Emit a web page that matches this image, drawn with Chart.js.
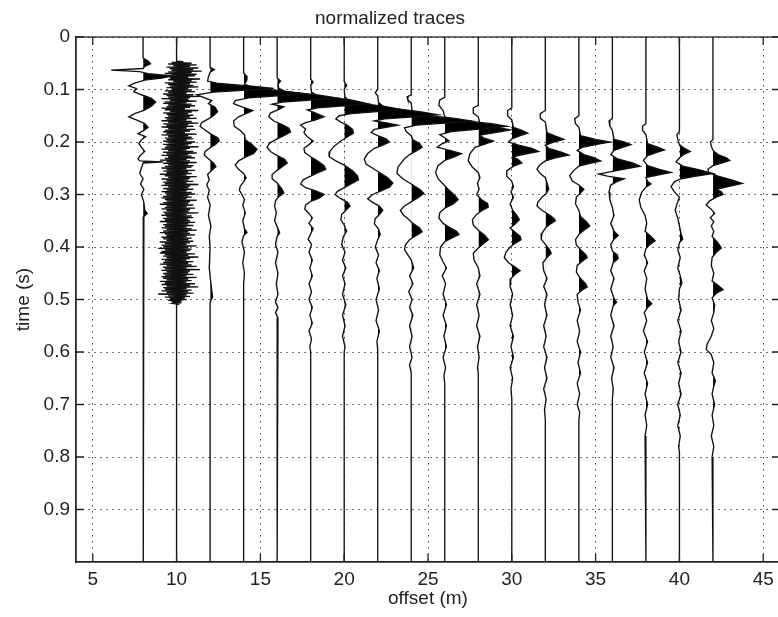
<!DOCTYPE html>
<html>
<head>
<meta charset="utf-8">
<script src="https://cdn.jsdelivr.net/npm/chart.js@4.4.0/dist/chart.umd.min.js"></script>
<style>
  html, body { margin: 0; padding: 0; background: #fff; overflow: hidden; }
</style>
</head>
<body>
<canvas id="traces" width="790" height="617"></canvas>
<script>
// trace positions (m) and axis ticks
const offsets = [8, 10, 12, 14, 16, 18, 20, 22, 24, 26, 28, 30, 32, 34, 36, 38, 40, 42];
const xTicks = [5, 10, 15, 20, 25, 30, 35, 40, 45];
const yTicks = [0, 0.1, 0.2, 0.3, 0.4, 0.5, 0.6, 0.7, 0.8, 0.9];
const yTickLabels = ['0', '0.1', '0.2', '0.3', '0.4', '0.5', '0.6', '0.7', '0.8', '0.9'];

// each trace: [time (s), amplitude (m of offset)]
const tr08 = [[0,0],[0.040,0],[0.046,0.3],[0.051,0.45],[0.056,0.1],[0.060,0],[0.063,-1.9],[0.066,-0.2],[0.070,0.3],[0.074,1.7],[0.078,1.2],[0.082,0.1],[0.088,-0.5],[0.093,-0.85],[0.098,-0.4],[0.104,-0.55],[0.110,-0.1],[0.117,0.5],[0.124,0.75],[0.132,0.5],[0.140,0.05],[0.146,-0.5],[0.152,-0.85],[0.158,-0.4],[0.165,0.1],[0.172,0.3],[0.178,0.05],[0.184,-0.3],[0.19,0.15],[0.196,-0.1],[0.203,-0.25],[0.21,-0.1],[0.218,0.1],[0.225,-0.15],[0.232,-0.3],[0.236,-0.2],[0.238,1.2],[0.240,0],[0.25,-0.1],[0.26,-0.2],[0.27,0],[0.28,-0.15],[0.29,0.05],[0.30,-0.1],[0.315,0.05],[0.33,0.1],[0.336,0.25],[0.342,0.05],[0.36,0],[0.38,0.05],[0.40,0],[1,0]];

// trace 10 (noisy near-source trace) is sampled every 1.5 ms from 0.047 s
const tr10Start = 0.047;
const tr10Step = 0.0015;
const tr10Amp = [
  0.4,-0.3,0.9,-0.5,1.2,-0.2,0.8,-0.6,1.3,-0.4,1.0,-0.3,1.5,-0.5,0.9,-0.7,1.2,-0.3,1.1,-0.6,0.7,-0.4,1.4,-0.5,0.9,-0.2,1.2,-0.7,0.8,-0.5,1.0,-0.4,1.3,-0.6,0.7,-0.3,
  0.9,-0.7,1.1,-0.5,0.6,-0.8,1.0,-0.6,1.4,-0.5,0.8,-0.9,0.7,-0.4,1.2,-0.7,0.6,-0.8,0.9,-0.5,1.1,-0.6,0.8,-0.9,0.5,-0.7,1.3,-0.4,0.9,-0.8,0.7,-0.6,1.0,-0.5,
  0.8,-0.7,1.2,-0.6,0.6,-0.9,0.9,-0.5,1.3,-0.8,0.7,-0.6,1.0,-0.9,0.6,-0.5,1.1,-0.7,0.8,-0.8,0.5,-0.6,1.2,-0.9,0.7,-0.5,0.9,-0.7,1.0,-0.6,0.6,-0.8,1.1,-0.5,
  0.9,-0.8,0.7,-0.6,1.3,-0.7,0.8,-0.9,0.6,-0.5,1.0,-0.8,1.2,-0.6,0.7,-0.9,0.9,-0.5,1.1,-0.7,0.6,-1.0,0.8,-0.6,1.2,-0.8,0.7,-0.5,1.0,-0.7,0.9,-0.9,0.6,-0.6,
  1.1,-0.8,0.7,-0.6,0.9,-1.0,0.6,-0.7,1.2,-0.5,0.8,-0.9,0.7,-0.6,1.0,-0.8,0.6,-0.7,1.3,-0.9,0.8,-0.5,0.7,-0.8,1.0,-0.6,0.6,-0.9,0.9,-0.7,1.1,-0.6,0.7,-0.8,
  0.9,-0.9,0.6,-0.7,1.2,-0.6,0.8,-0.8,0.7,-1.0,1.0,-0.6,0.6,-0.7,1.1,-0.9,0.8,-0.6,0.7,-0.8,1.3,-0.7,0.6,-0.9,0.9,-0.6,1.0,-0.8,0.7,-0.7,0.8,-1.0,1.1,-0.6,
  0.7,-0.8,1.0,-0.7,0.6,-0.9,0.9,-0.6,1.2,-0.8,0.7,-1.0,0.8,-0.7,1.1,-0.6,0.6,-0.9,0.9,-0.8,0.7,-0.6,1.0,-1.0,0.8,-0.7,0.6,-0.9,1.2,-0.8,0.7,-1.1,0.9,-0.7,
  0.8,-0.9,0.6,-1.0,1.1,-0.7,0.7,-0.8,1.3,-0.6,0.8,-0.9,0.6,-0.7,1.0,-0.8,0.7,-1.0,0.9,-0.6,1.2,-0.8,0.6,-0.7,1.4,-0.9,0.8,-0.6,0.7,-0.8,1.0,-0.7,0.6,-0.9,
  1.2,-0.8,0.7,-0.6,0.9,-1.0,0.6,-0.7,1.1,-0.9,0.8,-0.6,1.3,-0.8,0.6,-0.7,0.9,-0.9,0.7,-0.6,1.0,-1.1,0.6,-0.5,0.8,-0.7,0.5,-0.4,0.6,-0.5,0.3,-0.3,0.3,-0.2,0.1,0
];

const tr12 = [[0,0],[0.058,0],[0.062,0.25],[0.067,0],[0.076,-0.1],[0.084,-0.15],[0.088,0.4],[0.094,2.6],[0.098,3.8],[0.101,2.2],[0.105,0.2],[0.110,-0.8],[0.115,-0.4],[0.121,0.1],[0.127,-0.1],[0.134,0.3],[0.142,0.45],[0.150,0.2],[0.156,-0.1],[0.163,-0.5],[0.170,-0.6],[0.177,-0.3],[0.184,0],[0.192,0.45],[0.198,0.55],[0.205,0.3],[0.211,0],[0.218,-0.3],[0.225,-0.35],[0.232,-0.1],[0.240,0.2],[0.247,0.35],[0.254,0.1],[0.262,-0.15],[0.272,-0.05],[0.282,-0.2],[0.292,-0.05],[0.305,-0.15],[0.32,0],[0.34,-0.1],[0.36,0.05],[0.38,-0.05],[0.40,0],[0.44,-0.05],[0.47,0.05],[0.495,0.15],[0.505,0],[1,0]];
const tr14 = [[0,0],[0.068,0],[0.074,0.15],[0.082,0.2],[0.09,0.05],[0.097,0.6],[0.103,2.4],[0.108,3.6],[0.112,2.0],[0.116,0.3],[0.121,-0.5],[0.127,-0.6],[0.133,-0.1],[0.140,0.55],[0.145,0.2],[0.152,-0.3],[0.160,-0.6],[0.170,-0.55],[0.178,-0.2],[0.186,0.05],[0.196,0.1],[0.205,0.5],[0.214,0.8],[0.222,0.6],[0.229,0.1],[0.236,-0.3],[0.244,-0.5],[0.252,-0.3],[0.26,0],[0.268,0.15],[0.276,0],[0.284,-0.2],[0.292,-0.25],[0.30,-0.1],[0.31,0.05],[0.32,-0.05],[0.335,0.1],[0.35,-0.05],[0.365,0.05],[0.372,0.2],[0.378,0],[0.39,-0.1],[0.41,0.05],[0.43,-0.05],[0.45,0.05],[0.47,0],[1,0]];
const tr16 = [[0,0],[0.078,0],[0.084,0.2],[0.09,0.05],[0.098,0.1],[0.104,0.5],[0.111,2.5],[0.116,3.5],[0.12,2.0],[0.124,0.3],[0.128,-0.3],[0.133,0.4],[0.138,0.1],[0.145,-0.4],[0.152,-0.5],[0.160,-0.2],[0.167,0.3],[0.174,0.7],[0.181,0.8],[0.188,0.4],[0.194,0],[0.202,-0.45],[0.21,-0.6],[0.218,-0.4],[0.226,0],[0.233,0.45],[0.240,0.6],[0.247,0.3],[0.254,0],[0.262,-0.3],[0.27,-0.3],[0.278,0],[0.29,0.3],[0.297,0.4],[0.304,0.1],[0.312,-0.1],[0.322,-0.15],[0.335,-0.05],[0.35,-0.15],[0.365,0.05],[0.373,0.15],[0.38,0],[0.395,-0.1],[0.41,0.05],[0.43,-0.1],[0.45,0.05],[0.47,-0.05],[0.49,0.05],[0.505,-0.1],[0.515,0.05],[0.525,-0.1],[0.535,0.05],[0.545,0],[1,0]];
const tr18 = [[0,0],[0.08,0],[0.086,0.15],[0.092,0],[0.105,0.05],[0.112,0.4],[0.12,2.4],[0.127,3.4],[0.131,2.0],[0.135,0.4],[0.139,-0.2],[0.145,0.3],[0.152,0.8],[0.158,0.3],[0.163,-0.3],[0.168,-0.6],[0.175,-0.3],[0.182,-0.4],[0.19,-0.2],[0.198,0.15],[0.205,-0.1],[0.212,-0.4],[0.22,-0.35],[0.228,0],[0.236,0.4],[0.245,0.8],[0.252,0.9],[0.259,0.4],[0.265,0],[0.272,-0.45],[0.28,-0.6],[0.287,-0.3],[0.293,0.3],[0.3,0.8],[0.307,0.5],[0.313,0],[0.32,-0.3],[0.328,-0.35],[0.336,-0.1],[0.345,0.1],[0.355,-0.1],[0.365,0.15],[0.375,0],[0.385,-0.15],[0.395,0.05],[0.41,-0.1],[0.425,0.1],[0.44,-0.05],[0.455,0.1],[0.47,-0.1],[0.485,0.05],[0.5,-0.1],[0.515,0.1],[0.53,-0.05],[0.545,0.1],[0.56,-0.1],[0.575,0.05],[0.59,-0.05],[0.6,0],[1,0]];
const tr20 = [[0,0],[0.085,0],[0.092,0.15],[0.1,0],[0.115,0.05],[0.124,0.4],[0.132,2.4],[0.138,3.4],[0.142,2.0],[0.146,0.4],[0.15,-0.3],[0.156,-0.5],[0.162,-0.2],[0.168,0.2],[0.176,0.5],[0.183,0.55],[0.19,0.2],[0.198,-0.2],[0.208,-0.6],[0.218,-0.85],[0.228,-0.9],[0.236,-0.5],[0.244,0],[0.255,0.5],[0.265,0.8],[0.272,0.85],[0.28,0.4],[0.287,0],[0.294,-0.4],[0.3,-0.55],[0.308,-0.2],[0.315,0.2],[0.322,0.35],[0.33,0.1],[0.338,-0.15],[0.348,-0.2],[0.358,0],[0.37,0.15],[0.38,-0.05],[0.395,-0.15],[0.41,0.05],[0.425,-0.1],[0.44,0.1],[0.455,-0.1],[0.47,0.05],[0.49,-0.1],[0.51,0.1],[0.53,-0.1],[0.55,0.05],[0.57,-0.1],[0.59,0.05],[0.6,0],[1,0]];
const tr22 = [[0,0],[0.1,0],[0.106,-0.15],[0.112,0],[0.125,0.05],[0.134,0.4],[0.142,2.5],[0.148,3.6],[0.152,2.2],[0.156,0.4],[0.16,-0.2],[0.164,0.6],[0.168,1.2],[0.172,0.5],[0.176,-0.2],[0.182,-0.4],[0.188,0],[0.194,0.5],[0.2,0.7],[0.206,0.3],[0.212,-0.2],[0.222,-0.6],[0.232,-0.8],[0.242,-0.7],[0.25,-0.3],[0.258,0.1],[0.268,0.6],[0.278,0.9],[0.286,0.7],[0.293,0.2],[0.3,-0.3],[0.308,-0.6],[0.315,-0.3],[0.322,0.1],[0.33,0.3],[0.338,0.1],[0.346,-0.15],[0.356,-0.2],[0.366,0.05],[0.376,0.15],[0.386,0],[0.4,-0.15],[0.415,0.05],[0.43,-0.1],[0.445,0.1],[0.46,-0.05],[0.48,0.1],[0.5,-0.1],[0.52,0.05],[0.54,-0.1],[0.56,0.1],[0.58,-0.05],[0.595,0],[1,0]];
const tr24 = [[0,0],[0.11,0],[0.114,-0.25],[0.12,-0.2],[0.126,0],[0.14,0.05],[0.148,0.5],[0.155,2.6],[0.16,3.6],[0.164,2.0],[0.168,0.3],[0.173,-0.4],[0.18,-0.3],[0.188,0],[0.196,0.1],[0.203,0.5],[0.21,0.65],[0.217,0.3],[0.224,-0.1],[0.232,-0.4],[0.248,-0.8],[0.26,-0.85],[0.27,-0.5],[0.28,0],[0.29,0.5],[0.298,0.75],[0.306,0.4],[0.314,0],[0.322,-0.4],[0.33,-0.65],[0.338,-0.5],[0.346,-0.2],[0.355,0.1],[0.364,0.5],[0.371,0.65],[0.378,0.3],[0.386,-0.1],[0.396,-0.35],[0.405,-0.4],[0.415,-0.2],[0.425,0],[0.44,0.15],[0.455,-0.1],[0.47,0.1],[0.485,-0.15],[0.5,0.05],[0.515,-0.1],[0.53,0.1],[0.55,-0.1],[0.57,0.05],[0.59,-0.1],[0.61,0.05],[0.625,-0.1],[0.64,0],[1,0]];
const tr26 = [[0,0],[0.115,0],[0.12,-0.3],[0.13,-0.35],[0.14,-0.1],[0.152,0],[0.158,0.6],[0.165,2.8],[0.17,3.7],[0.175,2.2],[0.18,0.4],[0.186,-0.3],[0.192,0],[0.198,0.25],[0.204,-0.2],[0.21,-0.45],[0.216,0.3],[0.222,1.0],[0.228,0.6],[0.235,0],[0.245,-0.4],[0.258,-0.55],[0.27,-0.4],[0.28,-0.1],[0.29,0.2],[0.302,0.6],[0.31,0.8],[0.318,0.5],[0.326,0],[0.335,-0.3],[0.345,-0.35],[0.355,-0.1],[0.363,0.3],[0.37,0.7],[0.376,0.85],[0.383,0.4],[0.39,0],[0.4,-0.25],[0.415,-0.3],[0.428,-0.1],[0.44,0.1],[0.455,-0.15],[0.47,0.05],[0.49,-0.1],[0.51,0.1],[0.53,-0.1],[0.55,0.1],[0.57,-0.05],[0.59,0.1],[0.61,-0.1],[0.63,0.05],[0.645,-0.05],[0.66,0],[1,0]];
const tr28 = [[0,0],[0.13,0],[0.135,-0.3],[0.145,-0.3],[0.152,0],[0.165,0.1],[0.171,1.0],[0.177,1.9],[0.182,1.0],[0.187,0.1],[0.192,0.3],[0.198,0.9],[0.204,0.4],[0.21,-0.2],[0.222,-0.5],[0.236,-0.6],[0.248,-0.35],[0.258,0],[0.268,0.1],[0.278,-0.05],[0.29,0.05],[0.3,-0.1],[0.31,0.2],[0.317,0.55],[0.324,0.6],[0.331,0.2],[0.338,-0.1],[0.348,-0.35],[0.358,-0.3],[0.368,0],[0.378,0.4],[0.386,0.6],[0.394,0.3],[0.402,0],[0.412,-0.3],[0.425,-0.25],[0.44,0],[0.455,0.1],[0.47,-0.1],[0.49,0.1],[0.51,-0.1],[0.53,0.05],[0.55,-0.1],[0.57,0.1],[0.59,-0.05],[0.61,0.05],[0.63,-0.05],[0.64,0],[1,0]];
const tr30 = [[0,0],[0.135,0],[0.14,-0.25],[0.15,-0.25],[0.158,0],[0.172,0.1],[0.178,0.6],[0.183,0.95],[0.188,0.5],[0.194,0],[0.2,-0.2],[0.206,0.4],[0.212,1.2],[0.218,1.6],[0.223,0.8],[0.228,0.1],[0.234,0.4],[0.24,0.6],[0.246,0.1],[0.255,-0.3],[0.265,-0.3],[0.275,0],[0.285,0.1],[0.295,-0.05],[0.305,0.1],[0.318,-0.1],[0.33,0.05],[0.34,0.3],[0.348,0.45],[0.356,0.2],[0.364,-0.1],[0.372,0.2],[0.38,0.5],[0.386,0.55],[0.393,0.2],[0.4,-0.1],[0.41,-0.35],[0.42,-0.45],[0.43,-0.2],[0.438,0.2],[0.445,0.5],[0.452,0.2],[0.46,-0.05],[0.475,-0.1],[0.49,0.05],[0.51,-0.1],[0.53,0.05],[0.55,-0.1],[0.57,0.1],[0.59,-0.05],[0.61,0.1],[0.63,-0.1],[0.65,0.05],[0.67,-0.05],[0.69,0],[1,0]];
const tr32 = [[0,0],[0.14,0],[0.146,-0.3],[0.155,-0.3],[0.162,0],[0.182,0.1],[0.19,0.7],[0.195,1.1],[0.2,0.5],[0.206,0],[0.212,0.2],[0.219,0.9],[0.225,1.4],[0.23,0.6],[0.236,0],[0.244,-0.35],[0.252,-0.5],[0.26,-0.3],[0.268,0],[0.278,0.1],[0.29,0.2],[0.298,0.05],[0.305,-0.2],[0.315,-0.45],[0.322,-0.5],[0.33,-0.2],[0.338,0.2],[0.345,0.5],[0.35,0.6],[0.356,0.3],[0.364,0],[0.374,-0.2],[0.385,-0.25],[0.395,0],[0.405,0.25],[0.412,0.35],[0.42,0.1],[0.43,-0.15],[0.445,-0.1],[0.46,0.1],[0.475,-0.1],[0.49,0.1],[0.51,-0.05],[0.53,0.1],[0.55,-0.1],[0.57,0.05],[0.59,-0.1],[0.61,0.1],[0.63,-0.05],[0.65,0.1],[0.67,-0.1],[0.69,0.05],[0.71,-0.05],[0.73,0],[1,0]];
const tr34 = [[0,0],[0.15,0],[0.156,-0.25],[0.165,-0.2],[0.172,0],[0.188,0.1],[0.195,1.0],[0.2,1.85],[0.205,1.0],[0.21,0.2],[0.216,-0.1],[0.224,0.3],[0.23,0.9],[0.236,1.3],[0.241,0.6],[0.246,0],[0.254,-0.3],[0.264,-0.55],[0.274,-0.4],[0.282,0],[0.29,0.3],[0.297,0.1],[0.305,-0.15],[0.318,-0.2],[0.33,0],[0.342,0.1],[0.352,0.45],[0.36,0.65],[0.368,0.3],[0.376,0],[0.386,-0.2],[0.396,-0.15],[0.405,0.1],[0.414,0.4],[0.42,0.5],[0.427,0.2],[0.435,-0.1],[0.448,-0.15],[0.46,0.1],[0.47,0.4],[0.476,0.5],[0.482,0.2],[0.49,-0.1],[0.505,-0.05],[0.52,0.1],[0.54,-0.1],[0.56,0.05],[0.58,-0.1],[0.6,0.1],[0.62,-0.05],[0.64,0.1],[0.66,-0.1],[0.68,0.05],[0.7,-0.1],[0.715,0.05],[0.73,0],[1,0]];
const tr36 = [[0,0],[0.155,0],[0.16,-0.2],[0.17,-0.15],[0.178,0],[0.195,0.1],[0.2,0.7],[0.205,1.1],[0.21,0.6],[0.216,0.1],[0.224,-0.1],[0.232,0.3],[0.24,1.2],[0.246,1.65],[0.251,0.8],[0.256,0],[0.261,-0.8],[0.265,-0.3],[0.27,0.7],[0.275,0.3],[0.282,-0.1],[0.295,-0.2],[0.31,-0.15],[0.325,0],[0.34,0.1],[0.355,-0.1],[0.37,0.1],[0.378,0.35],[0.385,0.1],[0.395,-0.1],[0.408,0],[0.415,0.3],[0.422,0.35],[0.43,0.05],[0.445,-0.1],[0.46,0.1],[0.48,-0.1],[0.498,0.1],[0.505,0.25],[0.512,0.05],[0.53,-0.1],[0.55,0.1],[0.57,-0.1],[0.59,0.05],[0.61,-0.1],[0.63,0.1],[0.65,-0.05],[0.67,0.05],[0.69,0],[1,0]];
const tr38 = [[0,0],[0.165,0],[0.17,-0.2],[0.178,-0.2],[0.186,0],[0.203,0.1],[0.21,0.7],[0.215,1.1],[0.22,0.6],[0.226,0.1],[0.235,-0.15],[0.245,0.1],[0.252,0.8],[0.258,1.5],[0.263,0.7],[0.268,0],[0.275,0.1],[0.28,0.3],[0.286,0],[0.296,-0.25],[0.31,-0.4],[0.325,-0.3],[0.34,-0.05],[0.355,0.05],[0.37,-0.05],[0.38,0.3],[0.388,0.55],[0.395,0.25],[0.403,0],[0.415,-0.1],[0.43,0.1],[0.445,-0.1],[0.46,0.05],[0.48,-0.05],[0.5,0.1],[0.508,0.35],[0.515,0.1],[0.525,-0.1],[0.54,0.05],[0.56,-0.15],[0.58,0.1],[0.6,-0.1],[0.62,0.1],[0.64,-0.1],[0.66,0.1],[0.68,-0.05],[0.7,0.1],[0.72,-0.05],[0.74,0.05],[0.76,-0.05],[0.77,0],[1,0]];
const tr40 = [[0,0],[0.18,0],[0.186,-0.15],[0.195,-0.1],[0.205,0],[0.212,0.3],[0.218,0.65],[0.223,0.3],[0.23,0],[0.238,-0.2],[0.246,0.2],[0.253,1.2],[0.26,2.0],[0.265,1.0],[0.27,0.1],[0.276,-0.3],[0.285,-0.5],[0.295,-0.3],[0.305,0],[0.318,-0.15],[0.33,-0.25],[0.345,-0.1],[0.36,0],[0.375,0.1],[0.385,0.2],[0.392,0],[0.405,-0.1],[0.42,0.05],[0.44,-0.1],[0.455,0.05],[0.468,0.15],[0.48,0],[0.5,-0.05],[0.52,0.1],[0.54,-0.1],[0.56,0.1],[0.58,-0.05],[0.6,0.1],[0.62,-0.1],[0.64,0.1],[0.66,-0.05],[0.68,0.1],[0.7,-0.1],[0.72,0.05],[0.74,-0.1],[0.76,0.05],[0.78,-0.05],[0.79,0],[1,0]];
const tr42 = [[0,0],[0.195,0],[0.2,-0.15],[0.208,-0.1],[0.216,0],[0.224,0.3],[0.23,0.8],[0.235,1.0],[0.24,0.5],[0.245,0],[0.252,-0.3],[0.258,-0.25],[0.265,0.3],[0.272,1.1],[0.279,1.75],[0.285,0.9],[0.29,0.2],[0.295,0.5],[0.3,0.6],[0.305,0.2],[0.312,-0.2],[0.32,-0.4],[0.328,-0.1],[0.336,0.1],[0.344,-0.15],[0.352,0.05],[0.36,-0.1],[0.37,0.05],[0.38,-0.05],[0.392,0.3],[0.402,0.5],[0.41,0.2],[0.42,-0.05],[0.435,-0.1],[0.45,0.05],[0.465,-0.05],[0.473,0.3],[0.481,0.6],[0.488,0.2],[0.497,-0.05],[0.51,0.1],[0.525,0.05],[0.54,-0.1],[0.555,0.05],[0.57,-0.1],[0.585,-0.35],[0.595,-0.4],[0.605,-0.1],[0.62,0.05],[0.64,-0.05],[0.655,0.15],[0.665,0.05],[0.68,-0.05],[0.7,0.1],[0.72,-0.05],[0.74,0.05],[0.76,-0.1],[0.78,0.05],[0.8,-0.05],[0.81,0],[1,0]];

const tr10End = tr10Start + (tr10Amp.length - 1) * tr10Step;
const tr10 = [[0, 0], [tr10Start - 0.001, 0]]
  .concat(tr10Amp.map((a, i) => [tr10Start + i * tr10Step, a]))
  .concat([[tr10End + 0.001, 0], [1, 0]]);

const traces = [tr08, tr10, tr12, tr14, tr16, tr18, tr20, tr22, tr24, tr26, tr28, tr30, tr32, tr34, tr36, tr38, tr40, tr42];

const FONT = 'Liberation Sans, Arial, sans-serif';
const TEXT = '#222';

// black only on the right side of the trace baseline
function rightFill(chart, off) {
  const x = chart.scales.x;
  if (!x || !chart.chartArea) return '#000';
  const px = x.getPixelForValue(off);
  const g = chart.ctx.createLinearGradient(px, 0, px + 0.6, 0);
  g.addColorStop(0, 'rgba(0,0,0,0)');
  g.addColorStop(1, '#000');
  return g;
}

// matlab style box with inward ticks
const boxPlugin = {
  id: 'box',
  afterDraw(chart) {
    const { ctx, chartArea: a, scales } = chart;
    const x = scales.x, y = scales.y;
    ctx.save();
    ctx.strokeStyle = '#222';
    ctx.lineWidth = 1.3;
    ctx.strokeRect(a.left, a.top, a.right - a.left, a.bottom - a.top);
    ctx.beginPath();
    x.ticks.forEach(t => {
      const px = x.getPixelForValue(t.value);
      ctx.moveTo(px, a.bottom); ctx.lineTo(px, a.bottom - 8);
      ctx.moveTo(px, a.top); ctx.lineTo(px, a.top + 8);
    });
    y.ticks.forEach(t => {
      const py = y.getPixelForValue(t.value);
      ctx.moveTo(a.left, py); ctx.lineTo(a.left + 8, py);
      ctx.moveTo(a.right, py); ctx.lineTo(a.right - 8, py);
    });
    ctx.stroke();
    ctx.restore();
  }
};

const datasets = offsets.map((off, i) => ({
  data: traces[i].map(p => ({ x: off + p[1], y: p[0] })),
  borderColor: '#111',
  borderWidth: 1.35,
  pointRadius: 0,
  tension: 0,
  fill: { target: { value: off } },
  backgroundColor: ctx => rightFill(ctx.chart, off)
}));

new Chart(document.getElementById('traces'), {
  type: 'line',
  data: { datasets },
  options: {
    indexAxis: 'y',
    responsive: false,
    animation: false,
    devicePixelRatio: 1,
    layout: { padding: { left: 0, right: 10, top: 0, bottom: 0 } },
    plugins: {
      legend: { display: false },
      tooltip: { enabled: false },
      title: {
        display: true,
        text: 'normalized traces',
        color: TEXT,
        font: { family: FONT, size: 19, weight: 'normal' },
        padding: { top: 7, bottom: 7.2 }
      }
    },
    scales: {
      x: {
        type: 'linear',
        min: 4,
        max: 46,
        afterBuildTicks: s => { s.ticks = xTicks.map(v => ({ value: v })); },
        afterFit: s => { s.height = 55; },
        grid: { color: '#444', lineWidth: 1, drawTicks: false },
        border: { color: '#222', width: 1.3, dash: [1.5, 4.5] },
        ticks: {
          padding: 6,
          color: TEXT,
          autoSkip: false,
          maxRotation: 0,
          font: { family: FONT, size: 19 },
          callback: (v, i) => String(xTicks[i])
        },
        title: {
          display: true,
          text: 'offset (m)',
          color: TEXT,
          font: { family: FONT, size: 19 },
          padding: { top: 0, bottom: 7 }
        }
      },
      y: {
        type: 'linear',
        min: 0,
        max: 1,
        reverse: true,
        afterBuildTicks: s => { s.ticks = yTicks.map(v => ({ value: v })); },
        afterFit: s => { s.width = 76; },
        grid: { color: '#444', lineWidth: 1, drawTicks: false },
        border: { color: '#222', width: 1.3, dash: [1.5, 4.5] },
        ticks: {
          padding: 6,
          color: TEXT,
          font: { family: FONT, size: 19 },
          callback: (v, i) => yTickLabels[i]
        },
        title: {
          display: true,
          text: 'time (s)',
          color: TEXT,
          font: { family: FONT, size: 19 },
          padding: { top: 12, bottom: 0 }
        }
      }
    }
  },
  plugins: [boxPlugin]
});
</script>
</body>
</html>
